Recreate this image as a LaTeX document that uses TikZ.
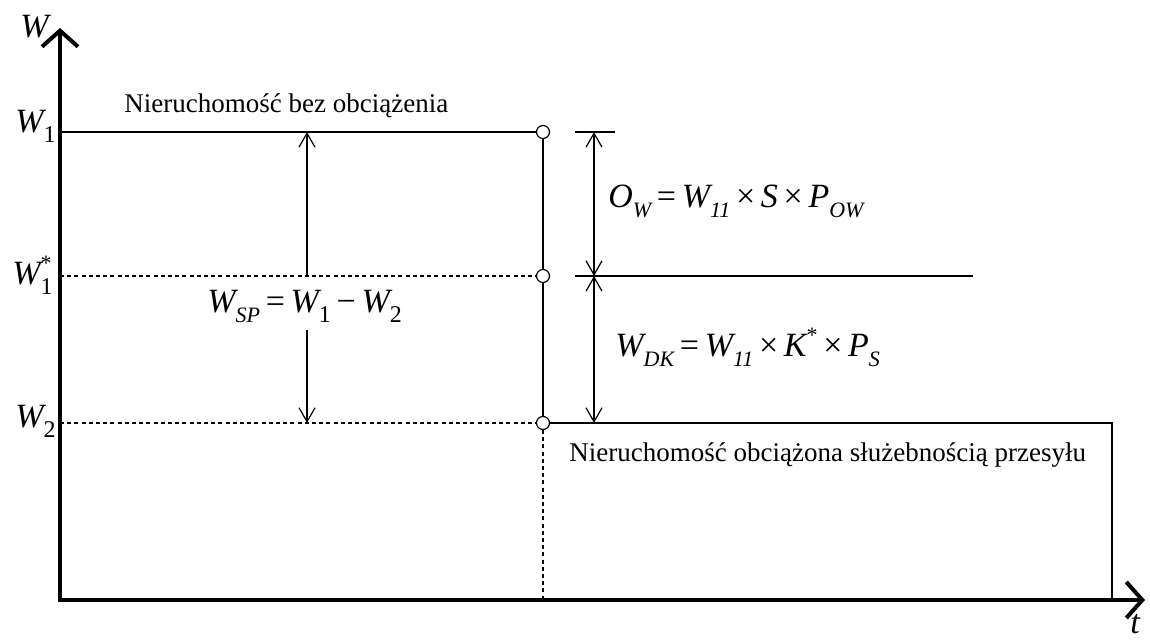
\documentclass[tikz,border=0pt]{standalone}
\usepackage{fontspec}
\setmainfont{Liberation Serif}
\usetikzlibrary{arrows.meta,positioning,calc}

% lowered index and raised star for the formulas
\newcommand{\ix}[1]{\raisebox{-0.6ex}{\fontsize{11}{11}\selectfont\itshape #1}}
\newcommand{\ixu}[1]{\raisebox{-0.6ex}{\fontsize{12}{12}\selectfont\upshape #1}}
\newcommand{\st}{\raisebox{0.9ex}{\fontsize{11}{11}\selectfont\upshape *}}
\newcommand{\eqs}{\upshape\,=\,\itshape}
\newcommand{\tms}{\upshape\,×\,\itshape}

\tikzset{
  axis/.style={line width=2pt, line join=miter, {Straight Barb[length=8pt,width=18pt]}-{Straight Barb[length=8pt,width=18pt]}},
  thin line/.style={line width=0.6pt},
  guide/.style={thin line, dash pattern=on 2pt off 1.6pt},
  dimarrow/.style={thin line, {Straight Barb[length=7pt,width=8pt]}-{Straight Barb[length=7pt,width=8pt]}},
  dimhalf/.style={thin line, -{Straight Barb[length=7pt,width=8pt]}},
  knot/.style={circle, draw, thin line, fill=white, inner sep=0pt, minimum size=6.5pt},
  lab/.style={font=\fontsize{13.5}{16}\selectfont, inner sep=0pt, anchor=base west},
  formula/.style={font=\fontsize{17}{20}\selectfont\itshape, inner sep=0pt, anchor=base west}
}

\begin{document}
\begin{tikzpicture}[x=0.5pt, y=0.5pt]
  \useasboundingbox (0,0) rectangle (1150,640);

  % axes
  \coordinate (O) at (60,40);
  \coordinate (ytip) at (60,612);
  \coordinate (xtip) at (1145,40);
  \draw[axis] (ytip) -- (O) -- (xtip);
  \node[formula] (wlab) at (20,602) {W};
  \node[formula] (tlab) at (1130,6) {t};

  % value levels
  \node[knot] (k1) at (543,508) {};
  \node[knot] (k1s) at (543,364) {};
  \node[knot] (k2) at (543,217) {};
  \draw[thin line] (O |- k1) -- (k1);
  \draw[guide] (O |- k1s) -- (k1s);
  \draw[guide] (O |- k2) -- (k2);
  \draw[thin line] (k1) -- (k1s) -- (k2);
  \draw[guide] (k2) -- (k2 |- O);
  \coordinate (rc) at (1112,217);
  \draw[thin line] (k2) -- (rc) -- (rc |- O);

  \node[formula] (w1) at (15,507) {W\ixu{1}};
  \node[formula] (w1s) at (12,355) {W\rlap{\st}\ixu{1}};
  \node[formula] (w2) at (15,212) {W\ixu{2}};

  \node[lab] (free) at (124,527) {Nieruchomość bez obciążenia};
  \node[lab] (burden) at (569,178) {Nieruchomość obciążona służebnością przesyłu};

  % difference on the left
  \coordinate (a1) at (307,508);
  \coordinate (a2) at (307,364);
  \coordinate (a3) at (307,310);
  \coordinate (a4) at (307,217);
  \draw[dimhalf] (a2) -- (a1);
  \draw[dimhalf] (a3) -- (a4);
  \node[formula] (wsp) at (207,327) {W\ix{SP}\eqs W\ixu{1}\upshape\,−\,\itshape W\ixu{2}};

  % split on the right
  \coordinate (d1) at (594,508);
  \coordinate (d2) at (594,364);
  \coordinate (d3) at (594,217);
  \draw[thin line] (575,508) -- (615,508);
  \draw[thin line] (575,364) -- (973,364);
  \draw[dimarrow] (d1) -- (d2);
  \draw[dimarrow] (d2) -- (d3);
  \node[formula] (ow) at (608,432) {O\ix{W}\eqs W\ix{11}\tms S\tms P\ix{OW}};
  \node[formula] (wdk) at (615,283) {W\ix{DK}\eqs W\ix{11}\tms K\st\tms P\ix{S}};
\end{tikzpicture}
\end{document}
